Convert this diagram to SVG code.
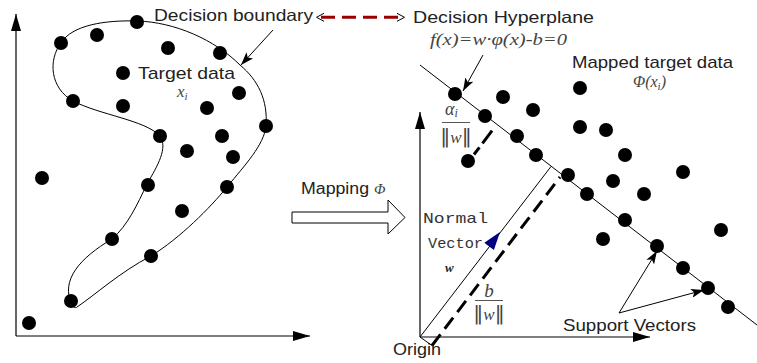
<svg xmlns="http://www.w3.org/2000/svg" width="757" height="363" viewBox="0 0 757 363">
<style>
.ln{stroke:#000;stroke-width:1.2;fill:none}
.thin{stroke:#000;stroke-width:1;fill:none}
.dot{fill:#000}
.sans{font-family:"Liberation Sans",Arial,sans-serif;fill:#222}
.math{font-family:"Liberation Serif","DejaVu Serif",serif;font-style:italic;fill:#444}
.mono{font-family:"Liberation Mono","DejaVu Sans Mono",monospace;fill:#333}
.dash{stroke:#000;stroke-width:3;fill:none;stroke-dasharray:14,7}
.bar{font-style:normal;font-family:"DejaVu Sans",sans-serif}
</style>
<defs>
<marker id="axis" viewBox="0 0 17 10" refX="17" refY="5" markerWidth="17" markerHeight="10" markerUnits="userSpaceOnUse" orient="auto"><path d="M0,0 L17,5 L0,10 z" fill="#000"/></marker>
<marker id="ah" viewBox="0 0 13 9" refX="13" refY="4.5" markerWidth="13" markerHeight="9" markerUnits="userSpaceOnUse" orient="auto"><path d="M0,0 L13,4.5 L0,9 L3,4.5 z" fill="#000"/></marker>
<marker id="open" viewBox="0 0 8 9" refX="8" refY="4.5" markerWidth="8" markerHeight="9" markerUnits="userSpaceOnUse" orient="auto"><path d="M0,0.5 L7.5,4.5 L0,8.5" fill="none" stroke="#000" stroke-width="1"/></marker>
</defs>

<g id="input-space-axes">
<line class="ln" x1="16" y1="336" x2="16" y2="14" marker-end="url(#axis)"/>
<line class="ln" x1="16" y1="336" x2="310" y2="336" marker-end="url(#axis)"/>
</g>

<g id="decision-boundary">
<path class="thin" d="M77,307 C95,295 120,272 151,256 C180,238 210,208 227,187 C245,165 264,145 266,126 C268,100 258,80 240,65 C215,40 175,22 137,21 C105,20 72,25 61,43 C48,60 50,88 73,101 C100,115 145,120 160,136 C168,148 158,165 147,184 C137,205 128,225 112,239 C80,258 60,280 72,305 C74,308 76,308 77,307 Z"/>
</g>

<g id="target-data-points">
<circle class="dot" cx="137" cy="22" r="7"/>
<circle class="dot" cx="97" cy="35" r="7"/>
<circle class="dot" cx="61" cy="43" r="7"/>
<circle class="dot" cx="168" cy="48" r="7"/>
<circle class="dot" cx="220" cy="53" r="7"/>
<circle class="dot" cx="123" cy="73" r="7"/>
<circle class="dot" cx="239" cy="93" r="7"/>
<circle class="dot" cx="73" cy="101" r="7"/>
<circle class="dot" cx="123" cy="106" r="7"/>
<circle class="dot" cx="207" cy="108" r="7"/>
<circle class="dot" cx="266" cy="126" r="7"/>
<circle class="dot" cx="160" cy="136" r="7"/>
<circle class="dot" cx="222" cy="136" r="7"/>
<circle class="dot" cx="187" cy="151" r="7"/>
<circle class="dot" cx="233" cy="157" r="7"/>
<circle class="dot" cx="42" cy="178" r="7"/>
<circle class="dot" cx="148" cy="185" r="7"/>
<circle class="dot" cx="227" cy="187" r="7"/>
<circle class="dot" cx="182" cy="211" r="7"/>
<circle class="dot" cx="112" cy="239" r="7"/>
<circle class="dot" cx="151" cy="256" r="7"/>
<circle class="dot" cx="71" cy="301" r="7"/>
<circle class="dot" cx="29" cy="323" r="7"/>
</g>

<g id="label-decision-boundary">
<text class="sans" x="154" y="21" font-size="16.5" textLength="159" lengthAdjust="spacingAndGlyphs">Decision boundary</text>
</g>
<g id="label-target-data">
<text class="sans" x="138" y="79" font-size="17" textLength="97" lengthAdjust="spacingAndGlyphs">Target data</text>
<text class="math" x="177" y="97" font-size="17">x<tspan font-size="11" dy="3">i</tspan></text>
</g>

<g id="mapping-arrow">
<path d="M292,212 L388,212 L388,200 L405,217.5 L388,234 L388,223 L292,223 Z" fill="#fff" stroke="#000" stroke-width="1"/>
<text class="sans" x="301" y="194" font-size="16" textLength="68" lengthAdjust="spacingAndGlyphs">Mapping</text>
<text class="math" x="374" y="194" font-size="15">Φ</text>
</g>

<g id="label-decision-hyperplane">
<text class="sans" x="413" y="23" font-size="16.5" textLength="181" lengthAdjust="spacingAndGlyphs">Decision Hyperplane</text>
<text class="math" x="430" y="45" font-size="16" textLength="137" lengthAdjust="spacingAndGlyphs">f(x)=w·φ(x)-b=0</text>
</g>

<g id="feature-space-axes">
<line class="ln" x1="420" y1="337" x2="420" y2="112" marker-end="url(#axis)"/>
<line class="ln" x1="420" y1="337" x2="650" y2="337" marker-end="url(#axis)"/>
<text class="sans" x="393" y="355" font-size="16" textLength="48" lengthAdjust="spacingAndGlyphs">Origin</text>
</g>

<g id="hyperplane">
<line class="thin" x1="420" y1="65" x2="757" y2="325"/>
</g>

<g id="normal-vector">
<line class="thin" x1="420" y1="337" x2="551" y2="166.5"/>
<polygon points="500,232 493.9,249.9 484.3,242.7" fill="#000080"/>
<text class="mono" x="423" y="223" font-size="15" textLength="65" lengthAdjust="spacingAndGlyphs">Normal</text>
<text class="mono" x="428" y="248" font-size="15" textLength="55" lengthAdjust="spacingAndGlyphs">Vector</text>
<text x="445" y="272" font-size="13" font-family="'Liberation Serif',serif" font-style="italic" font-weight="bold" fill="#222">w</text>
</g>

<g id="offset-b">
<line class="thin" x1="420" y1="337" x2="432" y2="345.5"/>
<line class="dash" x1="432" y1="345.5" x2="560" y2="177"/>
<text class="math" x="489" y="297" font-size="19" text-anchor="middle">b</text>
<line x1="475" y1="300.5" x2="503" y2="300.5" stroke="#555" stroke-width="1"/>
<text class="math" x="489" y="320" font-size="17" text-anchor="middle"><tspan class="bar" font-size="20">‖</tspan>w<tspan class="bar" font-size="20">‖</tspan></text>
</g>

<g id="margin-alpha">
<line class="dash" x1="474" y1="154.5" x2="494" y2="128" style="stroke-dasharray:9,5,16"/>
<text class="math" x="445" y="115" font-size="18">α<tspan font-size="12" dy="2">i</tspan></text>
<line x1="442" y1="122.5" x2="470" y2="122.5" stroke="#555" stroke-width="1"/>
<text class="math" x="456" y="143" font-size="17" text-anchor="middle"><tspan class="bar" font-size="20">‖</tspan>w<tspan class="bar" font-size="20">‖</tspan></text>
</g>

<g id="mapped-data-points">
<circle class="dot" cx="455" cy="94" r="7"/>
<circle class="dot" cx="503" cy="97" r="7"/>
<circle class="dot" cx="533" cy="110" r="7"/>
<circle class="dot" cx="580" cy="88" r="7"/>
<circle class="dot" cx="485" cy="116" r="7"/>
<circle class="dot" cx="580" cy="127" r="7"/>
<circle class="dot" cx="606" cy="130" r="7"/>
<circle class="dot" cx="517" cy="136" r="7"/>
<circle class="dot" cx="536" cy="155" r="7"/>
<circle class="dot" cx="468" cy="161" r="7"/>
<circle class="dot" cx="625" cy="155" r="7"/>
<circle class="dot" cx="683" cy="172" r="7"/>
<circle class="dot" cx="568" cy="175" r="7"/>
<circle class="dot" cx="613" cy="181" r="7"/>
<circle class="dot" cx="587" cy="194" r="7"/>
<circle class="dot" cx="644" cy="194" r="7"/>
<circle class="dot" cx="625" cy="220" r="7"/>
<circle class="dot" cx="721" cy="230" r="7"/>
<circle class="dot" cx="603" cy="239" r="7"/>
<circle class="dot" cx="657" cy="246" r="7"/>
<circle class="dot" cx="683" cy="268" r="7"/>
<circle class="dot" cx="708" cy="288" r="7"/>
<circle class="dot" cx="728" cy="307" r="7"/>
</g>

<g id="label-mapped-target-data">
<text class="sans" x="572" y="68" font-size="17" textLength="161" lengthAdjust="spacingAndGlyphs">Mapped target data</text>
<text class="math" x="633" y="87" font-size="16">Φ(x<tspan font-size="11" dy="3">i</tspan><tspan dy="-3">)</tspan></text>
</g>

<g id="label-support-vectors">
<text class="sans" x="563" y="331" font-size="16.5" textLength="133" lengthAdjust="spacingAndGlyphs">Support Vectors</text>
</g>

<g id="connectors">
<line x1="318" y1="17.3" x2="404" y2="17.3" stroke="#9a0000" stroke-width="3" stroke-dasharray="14,7" stroke-dashoffset="-3"/>
<line x1="323" y1="17.3" x2="316" y2="17.3" stroke="none" marker-end="url(#open)"/>
<line x1="398" y1="17.3" x2="405" y2="17.3" stroke="none" marker-end="url(#open)"/>
<line class="thin" x1="273" y1="30" x2="241" y2="65" marker-end="url(#ah)"/>
<line class="thin" x1="483" y1="55" x2="463" y2="91" marker-end="url(#ah)"/>
<line class="thin" x1="619" y1="313" x2="657" y2="251" marker-end="url(#ah)"/>
<line class="thin" x1="619" y1="313" x2="704" y2="290" marker-end="url(#ah)"/>
</g>
</svg>
